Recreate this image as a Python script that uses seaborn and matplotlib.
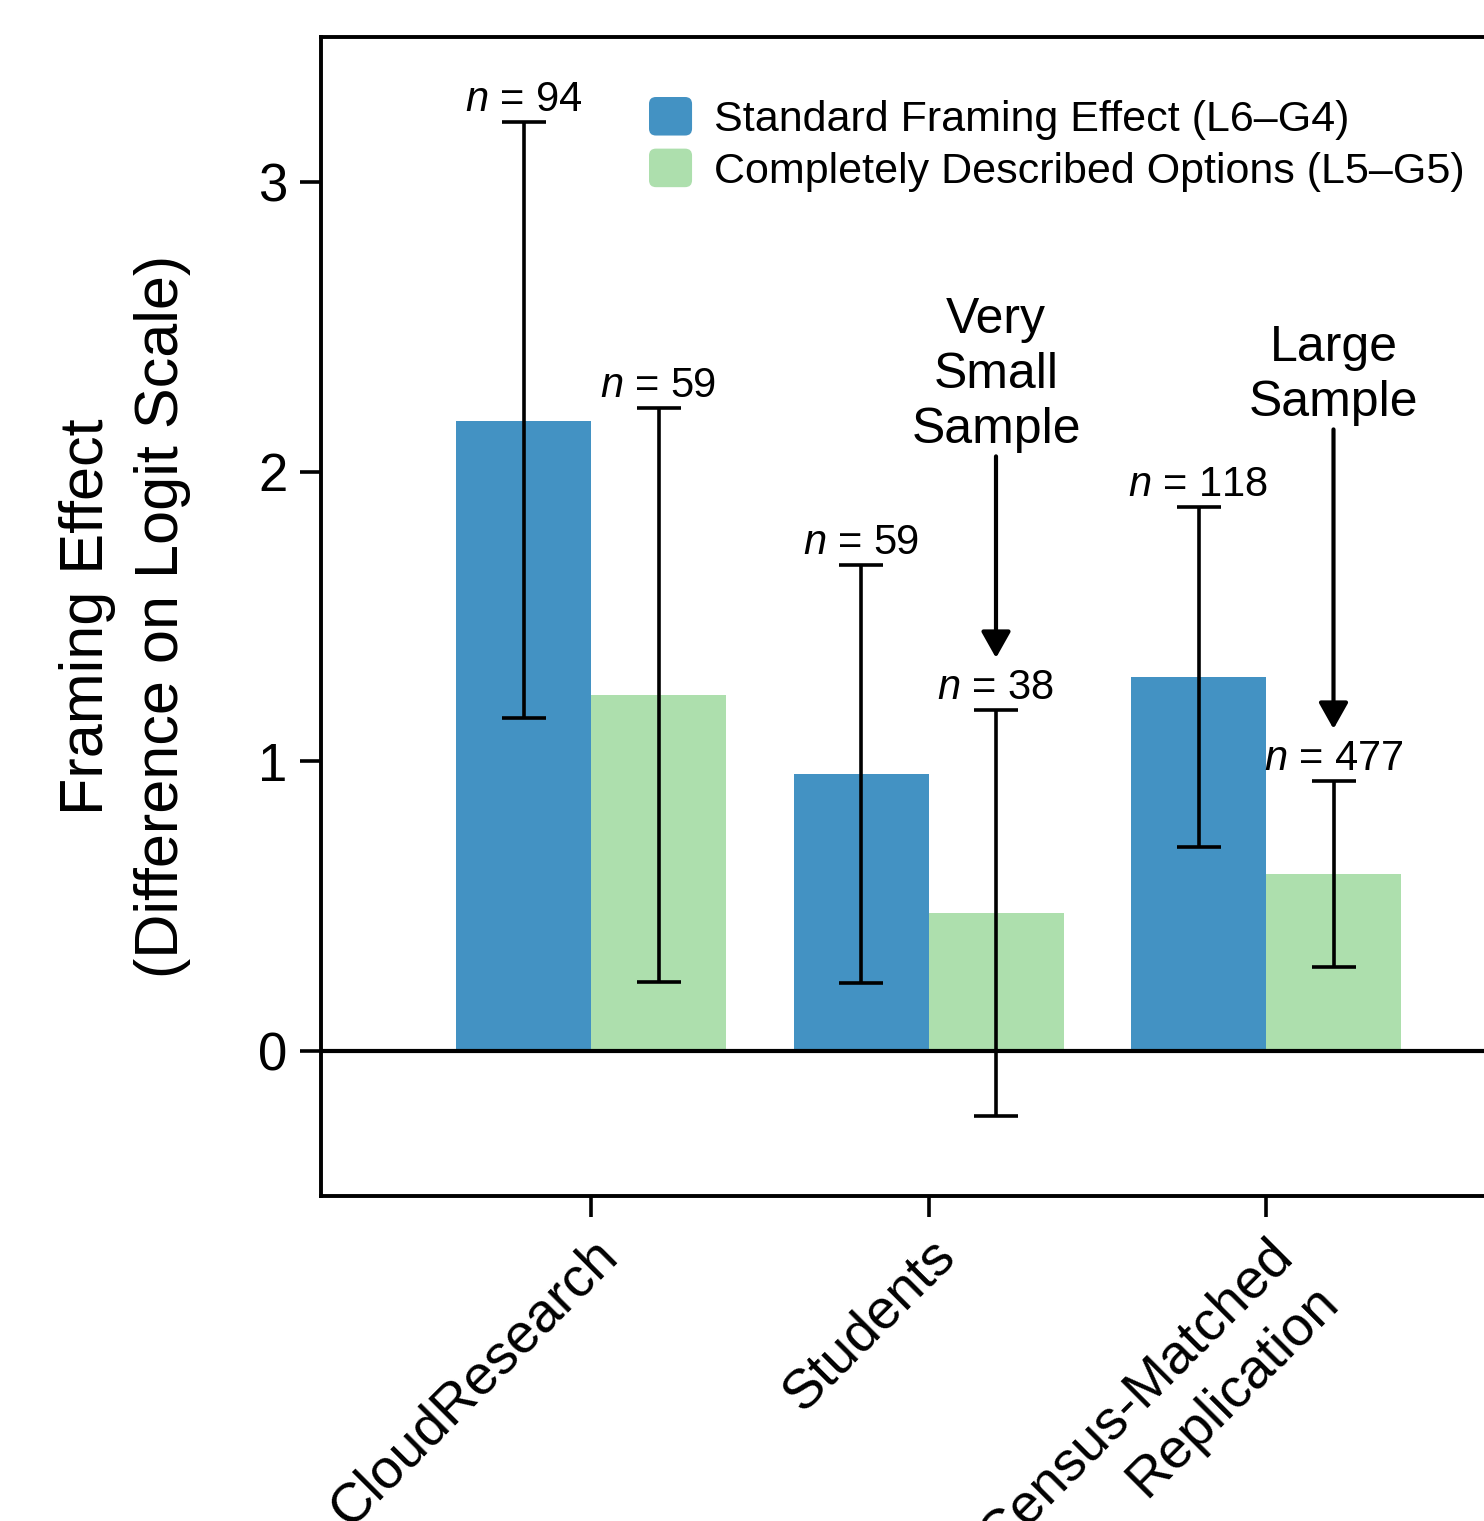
import numpy as np
import pandas as pd
import matplotlib
matplotlib.use('Agg')
import matplotlib.pyplot as plt
from matplotlib.patches import FancyBboxPatch
from matplotlib.legend_handler import HandlerBase
import seaborn as sns

groups = ['CloudResearch', 'Students', 'Census-Matched\nReplication']
conditions = ['Standard Framing Effect (L6\u2013G4)', 'Completely Described Options (L5\u2013G5)']

# bar heights and interval limits (logit scale)
standard_val = [2.175, 0.956, 1.291]
standard_lo = [1.149, 0.235, 0.704]
standard_hi = [3.207, 1.678, 1.878]
complete_val = [1.229, 0.476, 0.611]
complete_lo = [0.238, -0.224, 0.290]
complete_hi = [2.220, 1.177, 0.932]
standard_n = [94, 59, 118]
complete_n = [59, 38, 477]

palette = ['#4392c3', '#addfad']

df = pd.DataFrame({
    'group': groups * 2,
    'condition': [conditions[0]] * 3 + [conditions[1]] * 3,
    'value': standard_val + complete_val,
})


class RoundBox(HandlerBase):
    # rounded square legend keys
    def create_artists(self, legend, orig, xd, yd, w, h, fontsize, trans):
        r = 0.18 * h
        p = FancyBboxPatch((-xd + r, -yd + r), w - 2 * r, h - 2 * r,
                           boxstyle=f'round,pad={r}', fc=orig.get_facecolor(),
                           ec='none', transform=trans)
        return [p]


sns.set_theme(style='white')
plt.rcParams['font.family'] = ['Liberation Sans', 'DejaVu Sans']
plt.rcParams['mathtext.fontset'] = 'custom'
plt.rcParams['mathtext.it'] = 'Liberation Sans:italic'
plt.rcParams['mathtext.rm'] = 'Liberation Sans'
for key in ['text.color', 'axes.labelcolor', 'xtick.color', 'ytick.color']:
    plt.rcParams[key] = 'black'

fig = plt.figure(figsize=(14.84, 15.21), dpi=100)
# axes run past the right edge of the figure, as in the original crop
ax = fig.add_axes([321 / 1484, 325 / 1521, 1215 / 1484, 1159 / 1521])

sns.barplot(data=df, x='group', y='value', hue='condition', order=groups,
            hue_order=conditions, palette=palette, errorbar=None, width=0.8,
            saturation=1, linewidth=0, ax=ax)

ax.set_xlim(-0.8, 2.8)
ax.set_ylim(-0.5, 3.5)
ax.axhline(0, color='black', lw=3, zorder=3)

lows = [standard_lo, complete_lo]
highs = [standard_hi, complete_hi]
ns = [standard_n, complete_n]
bar_sets = list(ax.containers)[:2]
centers = []
for k, cont in enumerate(bar_sets):
    xs = [b.get_x() + b.get_width() / 2 for b in cont]
    centers.append(xs)
    lo = np.array(lows[k])
    hi = np.array(highs[k])
    mid = (lo + hi) / 2
    ax.errorbar(xs, mid, yerr=(hi - lo) / 2, fmt='none', ecolor='black',
                elinewidth=2.6, capsize=16, capthick=2.6, zorder=4)
    for x, h, n in zip(xs, hi, ns[k]):
        ax.annotate(f'$n$ = {n}', xy=(x, h), xytext=(0, 1.5),
                    textcoords='offset points', ha='center', va='bottom',
                    fontsize=30)

# call-outs over the green bars of the 2nd and 3rd groups
notes = [(1, 'Very\nSmall\nSample', 2.064), (2, 'Large\nSample', 2.157)]
for i, txt, ytxt in notes:
    x = centers[1][i]
    ax.annotate(txt, xy=(x, complete_hi[i] + 0.18), xytext=(x, ytxt),
                ha='center', va='bottom', fontsize=36, linespacing=1.25,
                arrowprops=dict(arrowstyle='-|>,head_length=0.8,head_width=0.45',
                                color='black', lw=3, mutation_scale=20,
                                shrinkA=0, shrinkB=0))

ax.set_yticks([0, 1, 2, 3])
ax.set_xlabel('')
ax.set_ylabel('Framing Effect\n(Difference on Logit Scale)', fontsize=44,
              multialignment='center', linespacing=1.4)
ax.yaxis.set_label_coords(-0.107, 0.5)
ax.tick_params(axis='both', direction='out', length=15, width=2.6,
               color='black', labelsize=38, pad=9, left=True, bottom=True)
for lab in ax.get_xticklabels():
    lab.set_rotation(45)
    lab.set_ha('right')
    lab.set_rotation_mode('anchor')
    lab.set_multialignment('right')
    lab.set_linespacing(1.35)
    lab.set_fontsize(40)
for s in ax.spines.values():
    s.set_linewidth(2.8)
    s.set_color('black')

handles, labels = ax.get_legend_handles_labels()
leg = ax.legend(handles, labels, loc='upper left',
                bbox_to_anchor=(649 / 1484, 1 - 97 / 1521),
                bbox_transform=fig.transFigure, frameon=False, fontsize=31,
                handlelength=1.0, handleheight=1.0, handletextpad=0.5,
                labelspacing=0.2, borderpad=0, borderaxespad=0,
                handler_map={h: RoundBox() for h in handles})

fig.savefig('out.png', dpi=100)
